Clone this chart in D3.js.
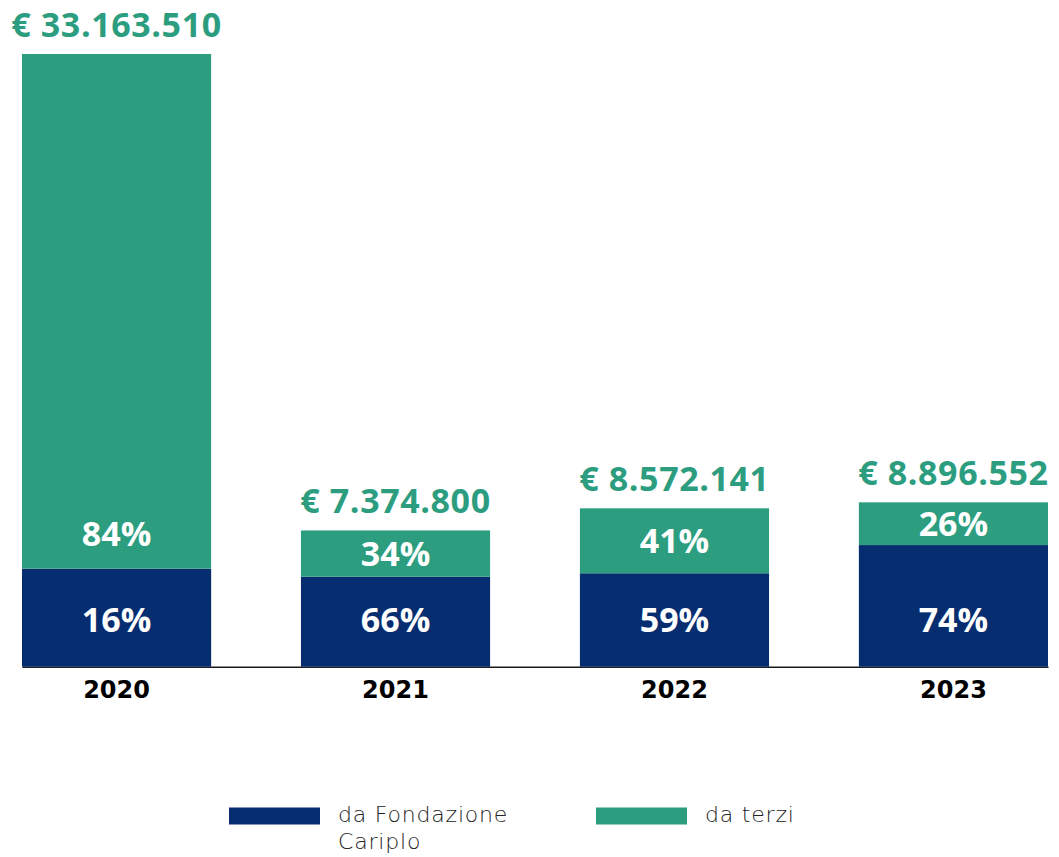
<!DOCTYPE html>
<html>
<head>
<meta charset="utf-8">
<script src="https://cdn.jsdelivr.net/npm/d3@7"></script>
<style>
  html, body { margin: 0; padding: 0; background: #fff; }
  svg { display: block; }
</style>
</head>
<body>
<svg id="chart" width="1059" height="857"></svg>
<script>
// ---- data ----
const years = ["2020", "2021", "2022", "2023"];
const totals = [33163510, 7374800, 8572141, 8896552];
const pctFondazione = [16, 66, 59, 74];
const pctTerzi = [84, 34, 41, 26];
const seriesNames = ["da Fondazione Cariplo", "da terzi"];

// ---- styles ----
const NAVY = "#072D71";
const GREEN = "#2C9E7F";

const svg = d3.select("#chart");

const x = d3.scaleBand()
  .domain(years)
  .range([22, 1048])
  .paddingInner(0.322)
  .paddingOuter(0);

const y = d3.scaleLinear()
  .domain([0, 33163510])
  .range([666.7, 54]);

const fmt = d3.formatLocale({ decimal: ",", thousands: ".", grouping: [3], currency: ["€ ", ""] }).format(",d");

const rows = years.map((yr, i) => {
  const fond = totals[i] * pctFondazione[i] / 100;
  return { year: yr, total: totals[i], fond, pf: pctFondazione[i], pt: pctTerzi[i] };
});

// axis baseline
const axis = svg.append("g")
  .attr("transform", `translate(0,${y(0)})`)
  .call(d3.axisBottom(x).tickSize(0).tickFormat(""));
axis.select(".domain").attr("stroke", "#1a1a1a").attr("stroke-width", 1.5);

// bars
const g = svg.append("g");
g.selectAll("rect.fond").data(rows).join("rect")
  .attr("class", "fond")
  .attr("x", d => x(d.year))
  .attr("width", x.bandwidth())
  .attr("y", d => y(d.fond))
  .attr("height", d => y(0) - y(d.fond))
  .attr("fill", NAVY);

g.selectAll("rect.terzi").data(rows).join("rect")
  .attr("class", "terzi")
  .attr("x", d => x(d.year))
  .attr("width", x.bandwidth())
  .attr("y", d => y(d.total))
  .attr("height", d => y(d.fond) - y(d.total))
  .attr("fill", GREEN);

// percent labels
const pctFont = "'Open Sans', sans-serif";
g.selectAll("text.pf").data(rows).join("text")
  .attr("class", "pf")
  .attr("x", d => x(d.year) + x.bandwidth() / 2)
  .attr("y", y(0) - 47)
  .attr("dy", "0.35em")
  .attr("text-anchor", "middle")
  .attr("fill", "#fff")
  .attr("font-family", pctFont)
  .attr("font-weight", 700)
  .attr("font-size", 34)
  .text(d => d.pf + "%");

g.selectAll("text.pt").data(rows).join("text")
  .attr("class", "pt")
  .attr("x", d => x(d.year) + x.bandwidth() / 2)
  .attr("y", d => Math.max((y(d.total) + y(d.fond)) / 2, y(d.fond) - 35))
  .attr("dy", "0.35em")
  .attr("text-anchor", "middle")
  .attr("fill", "#fff")
  .attr("font-family", pctFont)
  .attr("font-weight", 700)
  .attr("font-size", 34)
  .text(d => d.pt + "%");

// total labels
g.selectAll("text.tot").data(rows).join("text")
  .attr("class", "tot")
  .attr("x", d => x(d.year) + x.bandwidth() / 2)
  .attr("y", d => y(d.total) - 17.5)
  .attr("text-anchor", "middle")
  .attr("fill", GREEN)
  .attr("font-family", pctFont)
  .attr("font-weight", 700)
  .attr("font-size", 34)
  .attr("letter-spacing", 0.6)
  .text(d => "€ " + fmt(d.total));

// year labels
g.selectAll("text.yr").data(rows).join("text")
  .attr("class", "yr")
  .attr("x", d => x(d.year) + x.bandwidth() / 2)
  .attr("y", y(0) + 31)
  .attr("text-anchor", "middle")
  .attr("fill", "#000")
  .attr("font-family", "'DejaVu Sans', sans-serif")
  .attr("font-weight", 700)
  .attr("font-size", 24)
  .text(d => d.year);

// legend
const legend = svg.append("g").attr("font-family", "'DejaVu Sans', sans-serif")
  .attr("font-weight", 200).attr("font-size", 22).attr("letter-spacing", 0.8).attr("fill", "#222");
const legendItems = [
  { name: seriesNames[0], lines: ["da Fondazione", "Cariplo"], color: NAVY, x: 229 },
  { name: seriesNames[1], lines: ["da terzi"], color: GREEN, x: 596 }
];
legendItems.forEach(it => {
  const li = legend.append("g").attr("transform", `translate(${it.x},807.5)`);
  li.append("rect").attr("width", 91).attr("height", 17).attr("fill", it.color);
  const t = li.append("text").attr("x", 109).attr("y", 14.5);
  it.lines.forEach((ln, k) => {
    t.append("tspan").attr("x", 109).attr("dy", k === 0 ? 0 : 27).text(ln);
  });
});
</script>
</body>
</html>
